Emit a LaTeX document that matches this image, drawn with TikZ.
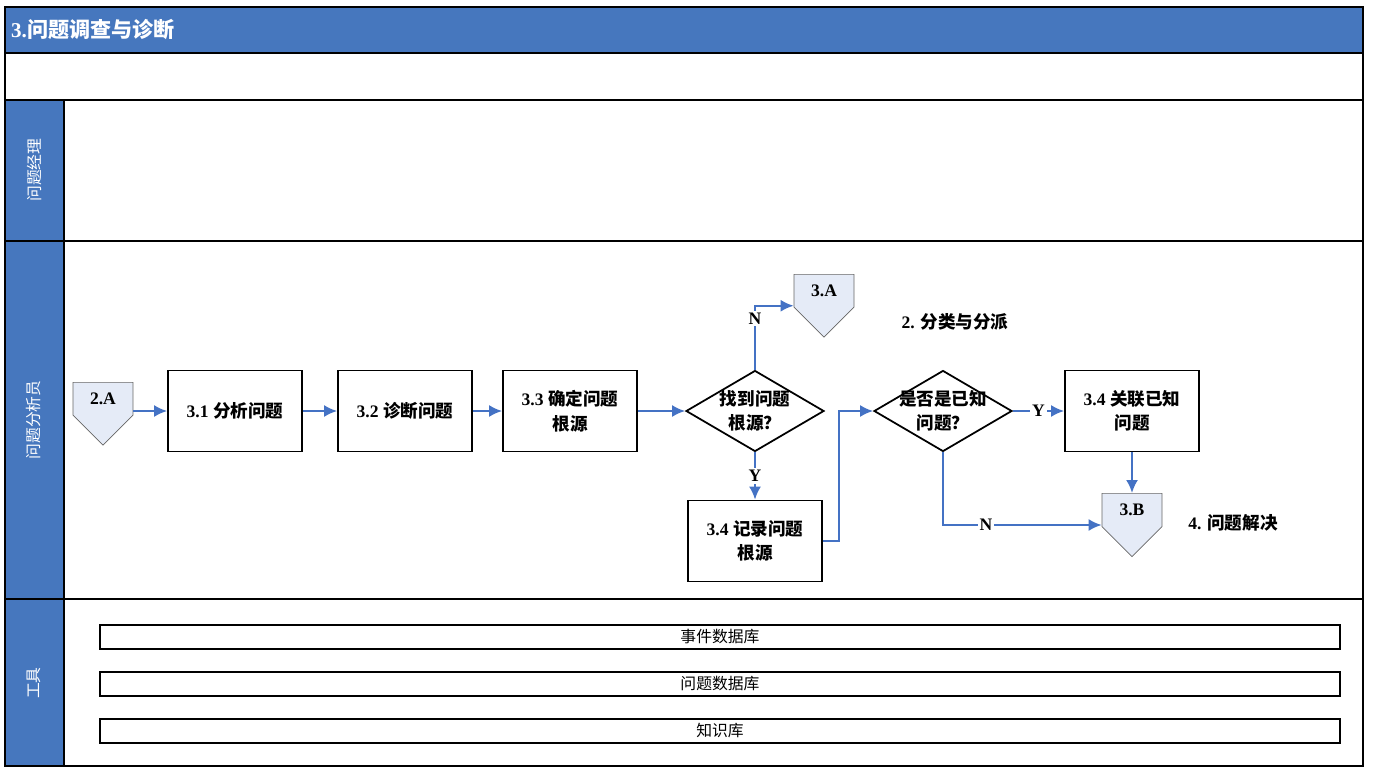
\documentclass[tikz,border=0pt]{standalone}
\usepackage{fontspec}
\setmainfont{Liberation Serif}
\newfontfamily\cjk{Noto Sans CJK SC}
\newcommand{\zh}[1]{{\cjk #1}}
\usetikzlibrary{
    shapes.geometric,  % Decision diamonds
    shapes.symbols,    % Off-page pointers
    arrows.meta        % Modern arrow tips
}
\definecolor{lanebg}{RGB}{70,119,190}
\definecolor{flowblue}{RGB}{68,114,196}
\definecolor{pagefill}{RGB}{229,235,247}
\tikzset{procbox/.style={
    draw, line width=1pt, minimum width=2.68cm, minimum height=1.62cm,
    align=center, font=\bfseries\fontsize{10}{14}\selectfont
}}
\tikzset{decision/.style={
    diamond, draw, line width=1pt, minimum width=2.76cm, minimum height=1.62cm,
    inner sep=-10pt, align=center, font=\bfseries\fontsize{10}{14}\selectfont
}}
\tikzset{offpage/.style={
    signal, signal to=south, signal pointer angle=90, draw=black!60, fill=pagefill,
    minimum width=1.2cm, minimum height=0.95cm, inner sep=1pt,
    font=\bfseries\fontsize{10}{12}\selectfont
}}
\tikzset{flow/.style={
    draw=flowblue, line width=1.2pt, -{Latex[length=2.6mm,width=2.4mm]}
}}
\tikzset{yn/.style={fill=white, inner sep=1pt, font=\bfseries\fontsize{10}{12}\selectfont}}
\tikzset{toolbar/.style={
    draw, line width=1pt, minimum width=24.8cm, minimum height=0.48cm,
    inner sep=0pt, font=\fontsize{9}{10}\selectfont
}}
\tikzset{lanetitle/.style={rotate=90, text=white, font=\fontsize{9}{10}\selectfont}}
\tikzset{note/.style={font=\bfseries\fontsize{10}{12}\selectfont}}

\begin{document}
\begin{tikzpicture}[x=0.02cm, y=-0.02cm]
    \useasboundingbox (0,0) rectangle (1373,778);
    % lanes
    \fill[lanebg] (5,7) rectangle (1363,53);
    \fill[lanebg] (5,100) rectangle (64,766);
    \draw[line width=1pt] (5,7) rectangle (1363,766);
    \foreach \y in {53,100,241,599} {\draw[line width=1pt] (5,\y) -- (1363,\y);}
    \draw[line width=1pt] (64,100) -- (64,766);
    \node[anchor=west, text=white, font=\bfseries\fontsize{12}{14}\selectfont] (title) at (5,30) {3.\zh{问题调查与诊断}};
    \node[lanetitle] (mgr) at (34,170) {\zh{问题经理}};
    \node[lanetitle] (ana) at (34,420) {\zh{问题分析员}};
    \node[lanetitle] (tools) at (34,683) {\zh{工具}};

    % flow
    \node[offpage, anchor=north] (p2a) at (103,382) {2.A};
    \node[procbox] (s31) at (235,411) {3.1 \zh{分析问题}};
    \node[procbox] (s32) at (405,411) {3.2 \zh{诊断问题}};
    \node[procbox] (s33) at (570,411) {3.3 \zh{确定问题}\\\zh{根源}};
    \node[decision] (q1) at (755,411) {\zh{找到问题}\\\zh{根源？}};
    \node[offpage, anchor=north] (p3a) at (824,274) {3.A};
    \node[procbox] (s34r) at (755,541) {3.4 \zh{记录问题}\\\zh{根源}};
    \node[decision] (q2) at (943,411) {\zh{是否是已知}\\\zh{问题？}};
    \node[procbox] (s34k) at (1132,411) {3.4 \zh{关联已知}\\\zh{问题}};
    \node[offpage, anchor=north] (p3b) at (1132,493) {3.B};
    \node[note] (n2) at (955,322) {2. \zh{分类与分派}};
    \node[note] (n4) at (1233,523) {4. \zh{问题解决}};

    \draw[flow] (p2a.east |- s31.west) -- (s31.west);
    \draw[flow] (s31) -- (s32);
    \draw[flow] (s32) -- (s33);
    \draw[flow] (s33) -- (q1);
    \draw[flow] (q1.north) |- node[yn, pos=0.4] {N} ([yshift=-0.3cm]p3a.west);
    \draw[flow] (q1.south) -- node[yn] {Y} (s34r);
    \draw[flow] (s34r.east) -- ++(16,0) |- (q2.west);
    \draw[flow] (q2.east) -- node[yn] {Y} (s34k);
    \draw[flow] (s34k) -- (p3b.north);
    \draw[flow] (q2.south) |- node[yn, pos=0.635] {N} ([yshift=-0.3cm]p3b.west);

    % tools
    \node[toolbar] (evdb) at (720,637) {\zh{事件数据库}};
    \node[toolbar] (prdb) at (720,684) {\zh{问题数据库}};
    \node[toolbar] (kndb) at (720,731) {\zh{知识库}};
\end{tikzpicture}
\end{document}
